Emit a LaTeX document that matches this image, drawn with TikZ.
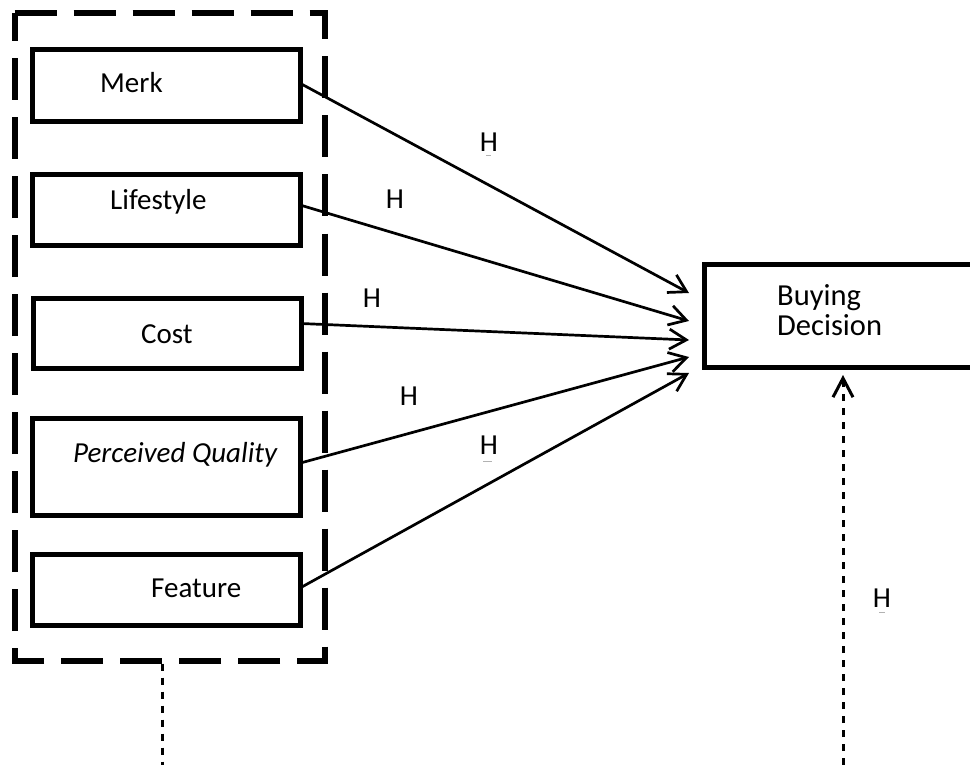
\documentclass[tikz,border=0pt]{standalone}
\usepackage{fontspec}
\setmainfont{Carlito}
\usetikzlibrary{arrows.meta}
\begin{document}
\begin{tikzpicture}[x=1pt,y=-1pt,
  varbox/.style={draw, line width=5pt, minimum width=268pt, inner sep=0pt, outer sep=0pt},
  lbl/.style={anchor=base west, font=\fontsize{29}{34}\selectfont, inner sep=0pt},
  biglbl/.style={anchor=base west, font=\fontsize{30.5}{34}\selectfont, inner sep=0pt},
  hyp/.style={anchor=base, font=\fontsize{29}{34}\selectfont, inner sep=0pt},
  hmark/.style={draw=gray!60, line width=1pt},
  link/.style={line width=2.7pt, -{Straight Barb[length=17pt,width=20pt]}},
  groupline/.style={line width=6pt, dash pattern=on 42pt off 17pt},
  fineline/.style={line width=3pt, dash pattern=on 7pt off 7pt},
]
\useasboundingbox (0,0) rectangle (970,765);
\clip (0,0) rectangle (970,765);

% independent variables
\node[varbox, minimum height=72pt] (merk) at (166.5,85.5) {};
\node[varbox, minimum height=71pt] (life) at (166,210) {};
\node[varbox, minimum height=70pt] (cost) at (167,333.5) {};
\node[varbox, minimum height=97pt] (pq)   at (166.5,467) {};
\node[varbox, minimum height=71pt] (feat) at (166,590) {};

\node[lbl] (tmerk) at (100,93) {Merk};
\node[lbl] (tlife) at (110,210) {Lifestyle};
\node[lbl] (tcost) at (141,343) {Cost};
\node[lbl] (tpq)   at (73,462) {\itshape Perceived Quality};
\node[lbl] (tfeat) at (151,597) {Feature};

% dependent variable (runs off the right edge)
\node[draw, line width=5pt, inner sep=0pt, outer sep=0pt,
      minimum width=295.5pt, minimum height=103pt] (buy) at (852.25,316) {};
\node[biglbl] (tbuy1) at (777,305) {Buying};
\node[biglbl] (tbuy2) at (777,335) {Decision};

% group of independent variables
\coordinate (g1) at (14.5,13);
\coordinate (g2) at (325,13);
\coordinate (g3) at (325,660.5);
\coordinate (g4) at (14.5,660.5);
\draw[groupline] (g1) -- (g2) -- (g3) -- (g4) -- cycle;

% arrow tips at the dependent variable
\coordinate (t1) at (689,293);
\coordinate (t2) at (689,321);
\coordinate (t3) at (689,340);
\coordinate (t4) at (689,357);
\coordinate (t5) at (689,373);

\draw[link] ([yshift=2pt]merk.east) -- (t1);
\draw[link] ([yshift=5pt]life.east) -- (t2);
\draw[link] ([yshift=10pt]cost.east) -- (t3);
\draw[link] ([yshift=4pt]pq.east) -- (t4);
\draw[link] ([yshift=2pt]feat.east) -- (t5);

% hypothesis labels
\node[hyp] (h1) at (489,152) {H};
\node[hyp] (h2) at (395,209) {H};
\node[hyp] (h3) at (372,307) {H};
\node[hyp] (h4) at (409,405) {H};
\node[hyp] (h5) at (489,454) {H};
\node[hyp] (h6) at (882,607) {H};
\draw[hmark] (486,156) -- (491,156);
\draw[hmark] (483,461) -- (492,461);
\draw[hmark] (879,612) -- (885,612);

% dashed links leaving the picture
\coordinate (gb) at (162,663.5);
\coordinate (ge) at (162,765);
\draw[fineline] (gb) -- (ge);
\coordinate (rs) at (843,765);
\coordinate (rt) at (843,375);
\draw[fineline, -{Straight Barb[length=19pt,width=20pt]}] (rs) -- (rt);
\end{tikzpicture}
\end{document}
